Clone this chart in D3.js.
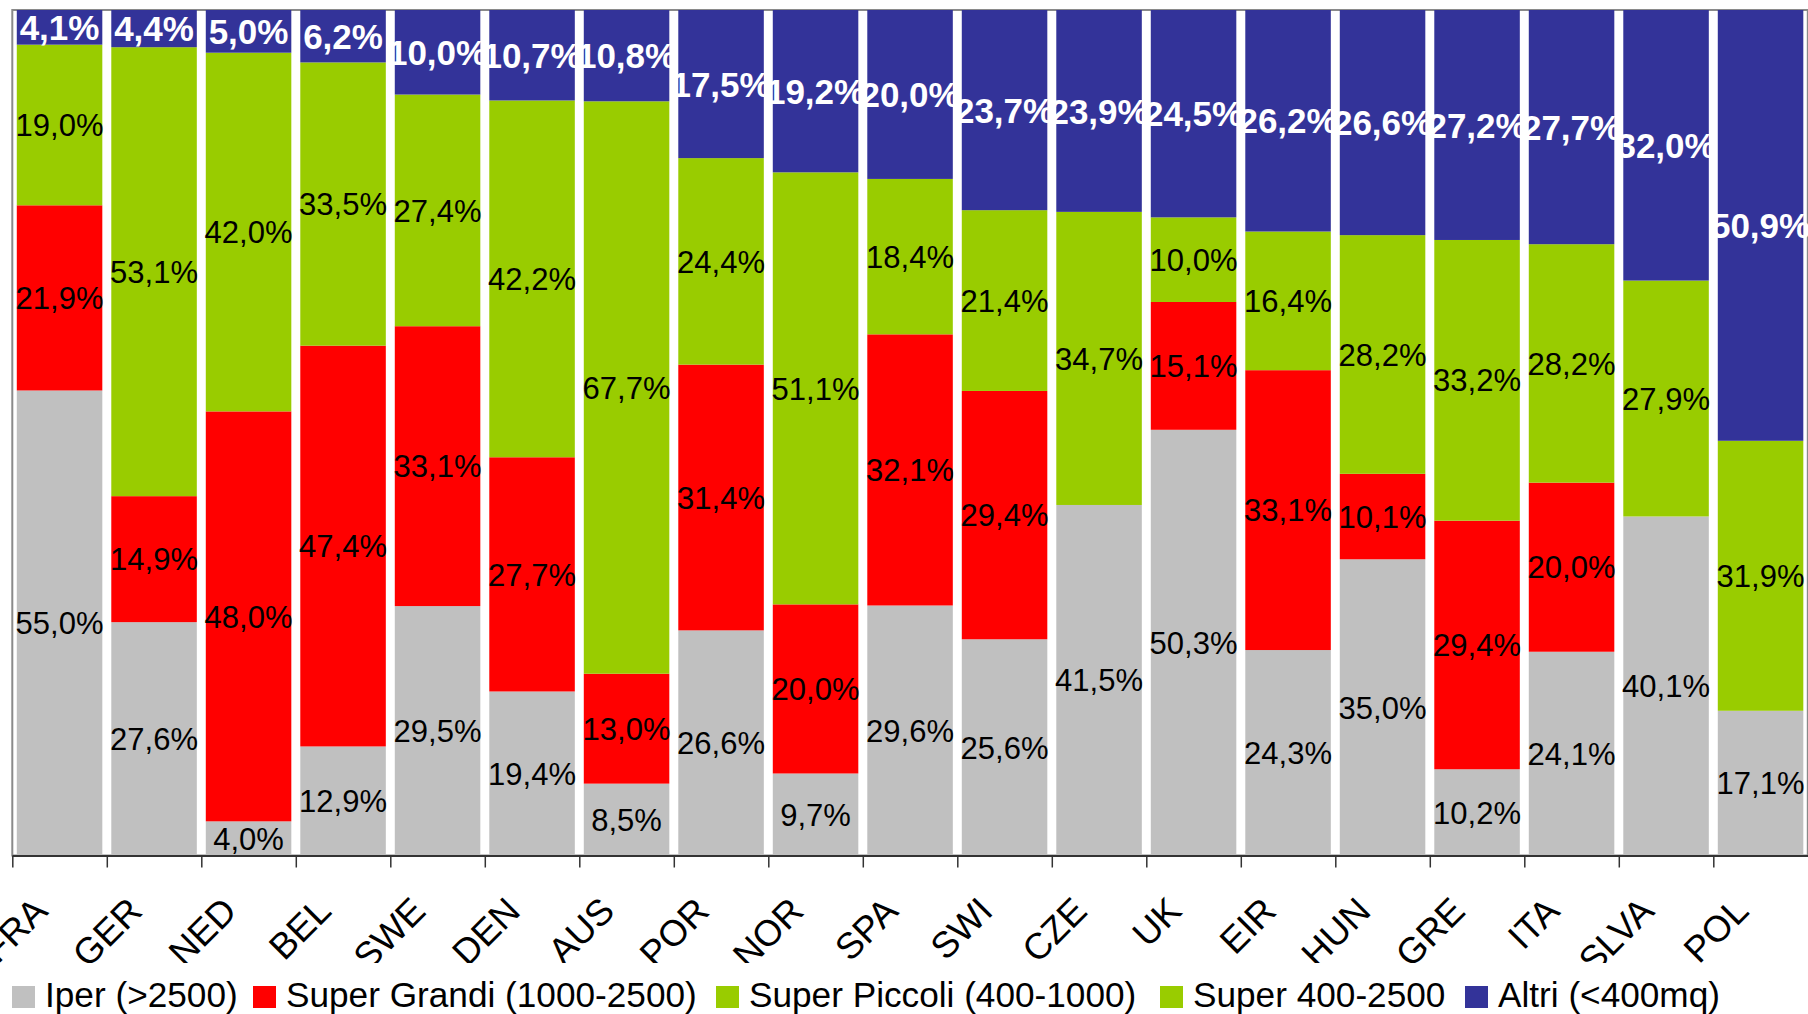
<!DOCTYPE html>
<html><head><meta charset="utf-8">
<script src="https://cdn.jsdelivr.net/npm/d3@7"></script>
<style>
html,body{margin:0;padding:0;background:#fff;overflow:hidden;}
svg{display:block;font-family:"Liberation Sans",Arial,Helvetica,sans-serif;}
</style>
</head><body>
<svg id="chart" width="1808" height="1014"></svg>
<script>
// ---- data ----
const categories = ["FRA","GER","NED","BEL","SWE","DEN","AUS","POR","NOR","SPA","SWI","CZE","UK","EIR","HUN","GRE","ITA","SLVA","POL"];
const seriesNames = ["Iper (>2500)","Super Grandi (1000-2500)","Super Piccoli (400-1000)","Super 400-2500","Altri (<400mq)"];
const iper          = [55.0,27.6, 4.0,12.9,29.5,19.4, 8.5,26.6, 9.7,29.6,25.6,41.5,50.3,24.3,35.0,10.2,24.1,40.1,17.1];
const superGrandi   = [21.9,14.9,48.0,47.4,33.1,27.7,13.0,31.4,20.0,32.1,29.4, 0  ,15.1,33.1,10.1,29.4,20.0, 0  , 0  ];
const superPiccoli  = [19.0,53.1,42.0,33.5,27.4,42.2,67.7,24.4,51.1,18.4,21.4, 0  ,10.0,16.4,28.2,33.2,28.2, 0  , 0  ];
const super400_2500 = [ 0  , 0  , 0  , 0  , 0  , 0  , 0  , 0  , 0  , 0  , 0  ,34.7, 0  , 0  , 0  , 0  , 0  ,27.9,31.9];
const altri         = [ 4.1, 4.4, 5.0, 6.2,10.0,10.7,10.8,17.5,19.2,20.0,23.7,23.9,24.5,26.2,26.6,27.2,27.7,32.0,50.9];
const seriesColors  = ["#C0C0C0","#FF0000","#99CC00","#99CC00","#333399"];

// ---- build table ----
const seriesValues = [iper, superGrandi, superPiccoli, super400_2500, altri];
const rows = categories.map((c,i) => {
  const r = {cat:c};
  seriesNames.forEach((s,k) => r[s] = seriesValues[k][i]);
  return r;
});
const stacked = d3.stack().keys(seriesNames).offset(d3.stackOffsetExpand)(rows);

const svg = d3.select("#chart");
const plotL = 12.3, plotR = 1807.8, plotT = 10, plotB = 855.5;

const x = d3.scaleBand().domain(categories).range([plotL, plotR]).paddingInner(0.095).paddingOuter(0.0475);
const xi = d3.scaleLinear().domain([0, categories.length]).range([plotL, plotR]);
const y = d3.scaleLinear().domain([0,1]).range([plotB, plotT]);
const fmt = v => d3.format(".1f")(v).replace(".", ",") + "%";

// plot frame
svg.append("rect").attr("x", plotL).attr("y", plotT).attr("width", plotR-plotL).attr("height", plotB-plotT)
  .attr("fill","none").attr("stroke","#8a8a8a").attr("stroke-width",2);

// bars
const layers = svg.append("g").selectAll("g").data(stacked).join("g")
  .attr("fill", (d,i) => seriesColors[i]);
layers.selectAll("rect").data(d => d).join("rect")
  .attr("x", d => x(d.data.cat))
  .attr("width", x.bandwidth())
  .attr("y", d => y(d[1]))
  .attr("height", d => y(d[0]) - y(d[1]));

// axis with ticks between categories
const axisG = svg.append("g").attr("transform", `translate(0,${plotB})`)
  .call(d3.axisBottom(xi).tickValues(d3.range(0, categories.length)).tickFormat("").tickSize(12).tickSizeOuter(0));
axisG.select(".domain").attr("stroke","#333").attr("stroke-width",2);
axisG.selectAll(".tick line").attr("stroke","#333").attr("stroke-width",1.5);

// category labels
svg.append("clipPath").attr("id","labClip").append("rect")
  .attr("x",0).attr("y",860).attr("width",1808).attr("height",103);
svg.append("g").attr("clip-path","url(#labClip)")
  .selectAll("text").data(categories).join("text")
  .attr("transform", c => `translate(${x(c) + x.bandwidth()/2 - 10},913) rotate(-45)`)
  .attr("text-anchor","end")
  .attr("font-size", 36.5)
  .attr("fill","#000")
  .text(c => c);

// data labels
const labG = svg.append("g");
stacked.forEach((layer, k) => {
  const isTop = k === stacked.length - 1;
  labG.append("g").selectAll("text")
    .data(layer.filter(d => d.data[layer.key] > 0))
    .join("text")
    .attr("x", d => x(d.data.cat) + x.bandwidth()/2)
    .attr("y", d => (y(d[0]) + y(d[1]))/2)
    .attr("dy","0.36em")
    .attr("text-anchor","middle")
    .attr("font-size", isTop ? 35 : 31)
    .attr("font-weight", isTop ? "bold" : "normal")
    .attr("fill", isTop ? "#fff" : "#000")
    .text(d => fmt(d.data[layer.key]));
});

// legend
const legendX = [12, 253, 716, 1160, 1465];
const lg = svg.append("g").selectAll("g").data(seriesNames).join("g")
  .attr("transform", (d,i) => `translate(${legendX[i]},0)`);
lg.append("rect").attr("x",0).attr("y",986).attr("width",23).attr("height",22)
  .attr("fill",(d,i) => seriesColors[i]);
lg.append("text").attr("x",33).attr("y",1007).attr("font-size",35.2).attr("fill","#000").text(d => d);
</script>
</body></html>
